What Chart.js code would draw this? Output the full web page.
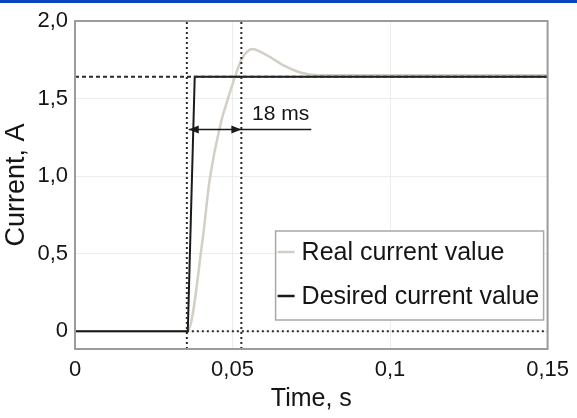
<!DOCTYPE html>
<html>
<head>
<meta charset="utf-8">
<script src="https://cdn.jsdelivr.net/npm/chart.js@4.4.0/dist/chart.umd.min.js"></script>
<style>
  html, body { margin: 0; padding: 0; background: #fff; }
  #wrap { position: relative; width: 577px; height: 418px; }
  #topbar { position: absolute; left: 0; top: 0; width: 577px; height: 3px; background: #0a46c0; }
</style>
</head>
<body>
<div id="wrap">
  <canvas id="current-chart" width="577" height="418"></canvas>
  <div id="topbar"></div>
</div>
<script>
// data
const realTime    = [0, 0.0357, 0.0405, 0.0427, 0.0465, 0.0478, 0.0528, 0.0545, 0.0563, 0.0590, 0.0617, 0.0665, 0.0712, 0.0775, 0.15];
const realCurrent = [0, 0,      0.59,   0.97,   1.36,   1.45,   1.75,   1.80,   1.82,   1.80,   1.77,   1.71,   1.67,   1.65,   1.65];

const desiredTime    = [0, 0.0358, 0.0380, 0.15];
const desiredCurrent = [0, 0,      1.64,   1.64];

const xTicks = [0, 0.05, 0.1, 0.15];
const xTickLabels = ['0', '0,05', '0,1', '0,15'];
const yTicks = [0, 0.5, 1, 1.5, 2];
const yTickLabels = ['0', '0,5', '1,0', '1,5', '2,0'];

const seriesLabels = ['Real current value', 'Desired current value'];

// helper lines
const stepStart = 0.0355;
const stepEnd = 0.0528;
const steadyValue = 1.64;
const arrowY = 1.30;
const arrowFrom = 0.0361;
const arrowTail = 0.075;
const delayLabel = '18 ms';
const delayLabelPos = [0.0562, 1.40];

const xMin = 0, xMax = 0.15, yMin = -0.115, yMax = 2.0;

const FONT = 'Liberation Sans, Arial, sans-serif';
const TEXT = '#151515';
const REAL_COLOR = '#d3cfc7';
const DESIRED_COLOR = '#1a1a1a';
const GUIDE_COLOR = '#2a2a2a';

function pts(xs, ys) {
    return xs.map((x, i) => ({ x: x, y: ys[i] }));
}

function guide(data, dash) {
    return {
        data: data,
        borderColor: GUIDE_COLOR,
        borderWidth: 2,
        borderDash: dash,
        pointRadius: 0,
        order: 0
    };
}

// frame, arrow, label and legend box
const extras = {
    id: 'extras',
    afterDraw(chart) {
        const ctx = chart.ctx;
        const area = chart.chartArea;
        const xs = chart.scales.x, ys = chart.scales.y;
        ctx.save();

        ctx.strokeStyle = '#9c9c9c';
        ctx.lineWidth = 2;
        ctx.strokeRect(area.left, area.top, area.right - area.left, area.bottom - area.top);

        // arrow heads
        const ay = ys.getPixelForValue(arrowY);
        const lx = xs.getPixelForValue(arrowFrom);
        const rx = xs.getPixelForValue(stepEnd);
        ctx.fillStyle = DESIRED_COLOR;
        ctx.beginPath();
        ctx.moveTo(lx, ay); ctx.lineTo(lx + 10, ay - 4); ctx.lineTo(lx + 10, ay + 4);
        ctx.closePath(); ctx.fill();
        ctx.beginPath();
        ctx.moveTo(rx, ay); ctx.lineTo(rx - 10, ay - 4); ctx.lineTo(rx - 10, ay + 4);
        ctx.closePath(); ctx.fill();

        ctx.fillStyle = TEXT;
        ctx.font = '21px ' + FONT;
        ctx.textBaseline = 'alphabetic';
        ctx.textAlign = 'left';
        ctx.fillText(delayLabel, xs.getPixelForValue(delayLabelPos[0]), ys.getPixelForValue(delayLabelPos[1]) + 6);

        // legend box
        const bw = 268, bh = 89;
        const bx = area.right - bw - 4, by = area.bottom - bh - 29;
        ctx.fillStyle = '#fff';
        ctx.fillRect(bx, by, bw, bh);
        ctx.strokeStyle = '#a8a8a8';
        ctx.lineWidth = 1.5;
        ctx.strokeRect(bx, by, bw, bh);
        const colors = [REAL_COLOR, DESIRED_COLOR];
        ctx.font = '25px ' + FONT;
        ctx.textBaseline = 'middle';
        seriesLabels.forEach((label, i) => {
            const y = by + 21 + i * 44;
            ctx.strokeStyle = colors[i];
            ctx.lineWidth = 2.5;
            ctx.beginPath();
            ctx.moveTo(bx + 2, y); ctx.lineTo(bx + 19, y);
            ctx.stroke();
            ctx.fillStyle = TEXT;
            ctx.fillText(label, bx + 26, y + 1);
        });
        ctx.restore();
    }
};

const currentChart = new Chart(document.getElementById('current-chart'), {
    type: 'line',
    data: {
        datasets: [
            {
                label: seriesLabels[0],
                data: pts(realTime, realCurrent),
                borderColor: REAL_COLOR,
                borderWidth: 2.5,
                pointRadius: 0,
                cubicInterpolationMode: 'monotone',
                order: 3
            },
            {
                label: seriesLabels[1],
                data: pts(desiredTime, desiredCurrent),
                borderColor: DESIRED_COLOR,
                borderWidth: 2,
                pointRadius: 0,
                order: 2
            },
            guide([{ x: stepStart, y: yMin }, { x: stepStart, y: yMax }], [2, 3]),
            guide([{ x: stepEnd, y: yMin }, { x: stepEnd, y: yMax }], [2, 3]),
            guide([{ x: xMin, y: steadyValue }, { x: xMax, y: steadyValue }], [4, 3]),
            guide([{ x: stepStart, y: 0 }, { x: xMax, y: 0 }], [2, 3]),
            {
                data: [{ x: arrowFrom, y: arrowY }, { x: arrowTail, y: arrowY }],
                borderColor: DESIRED_COLOR,
                borderWidth: 1.5,
                pointRadius: 0,
                order: 1
            }
        ]
    },
    options: {
        responsive: false,
        animation: false,
        layout: { padding: { top: 21, right: 28, left: 0, bottom: 0 } },
        plugins: {
            legend: { display: false },
            tooltip: { enabled: false }
        },
        scales: {
            x: {
                type: 'linear',
                min: xMin,
                max: xMax,
                afterBuildTicks: (axis) => { axis.ticks = xTicks.map(v => ({ value: v })); },
                afterFit: (axis) => { axis.height = 69; },
                ticks: {
                    color: TEXT,
                    font: { family: FONT, size: 22 },
                    padding: 8,
                    maxRotation: 0,
                    callback: (v) => xTickLabels[xTicks.indexOf(v)]
                },
                grid: { color: '#ececec', lineWidth: 1, drawTicks: false },
                border: { display: false },
                title: {
                    display: true,
                    text: 'Time, s',
                    color: TEXT,
                    font: { family: FONT, size: 25 },
                    padding: { top: 0, bottom: 4 }
                }
            },
            y: {
                type: 'linear',
                min: yMin,
                max: yMax,
                afterBuildTicks: (axis) => { axis.ticks = yTicks.map(v => ({ value: v })); },
                afterFit: (axis) => { axis.width = 75; },
                ticks: {
                    color: TEXT,
                    font: { family: FONT, size: 22 },
                    padding: 7,
                    callback: (v) => yTickLabels[yTicks.indexOf(v)]
                },
                grid: { color: '#ececec', lineWidth: 1, drawTicks: false },
                border: { display: false },
                title: {
                    display: true,
                    text: 'Current, A',
                    color: TEXT,
                    font: { family: FONT, size: 27 },
                    padding: { top: 0, bottom: 0 }
                }
            }
        }
    },
    plugins: [extras]
});
</script>
</body>
</html>
